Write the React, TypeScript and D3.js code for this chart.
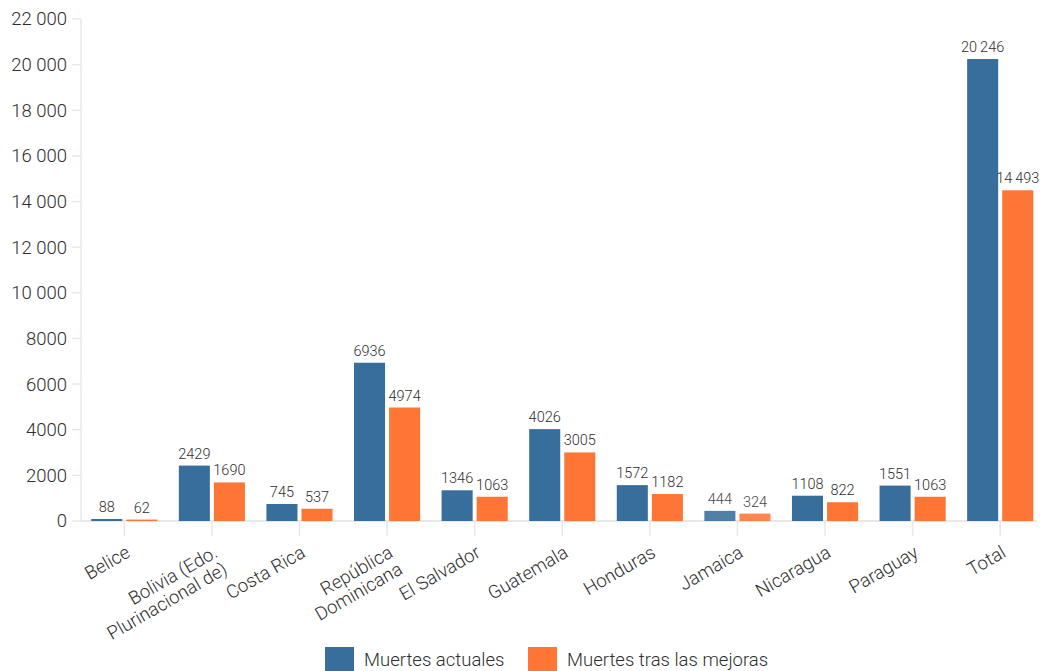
import React from "react";
import * as d3 from "d3";

const categories = [
  "Belice",
  "Bolivia (Edo.\nPlurinacional de)",
  "Costa Rica",
  "República\nDominicana",
  "El Salvador",
  "Guatemala",
  "Honduras",
  "Jamaica",
  "Nicaragua",
  "Paraguay",
  "Total",
];
const seriesNames = ["Muertes actuales", "Muertes tras las mejoras"];
const actual = [88, 2429, 745, 6936, 1346, 4026, 1572, 444, 1108, 1551, 20246];
const improved = [62, 1690, 537, 4974, 1063, 3005, 1182, 324, 822, 1063, 14493];
const yTicks = [0, 2000, 4000, 6000, 8000, 10000, 12000, 14000, 16000, 18000, 20000, 22000];

const W = 1042;
const H = 671;
const colors = ["#386e9b", "#fe7535"];
const hovered = "Jamaica";
const FONT = "Roboto, 'Noto Sans', sans-serif";
const TEXT = "#2e2e2e";
const AXIS = "#e8e8e8";

function fmt(v: number, sep: string) {
  if (v < 10000) return String(v);
  return d3.format(",")(v).replace(/,/g, sep);
}

export default function App() {
  const y = d3.scaleLinear().domain([0, 22000]).range([521, 19]);
  const x = d3.scaleBand<string>().domain(categories).range([80.5, 1044]).padding(0);
  const step = x.step();
  const groupW = step * 0.755;
  const xs = d3
    .scaleBand<string>()
    .domain(seriesNames)
    .range([0, groupW])
    .paddingInner(0.115);
  const series = [actual, improved];

  return (
    <svg
      width={W}
      height={H}
      style={{ position: "absolute", left: 0, top: 0, fontFamily: FONT }}
    >
      {/* y axis */}
      <line x1={81} x2={81} y1={y(22000)} y2={y(0)} stroke={AXIS} strokeWidth={1.5} />
      {yTicks.map((t) => (
        <g key={t}>
          <line x1={72} x2={81} y1={y(t)} y2={y(t)} stroke={AXIS} strokeWidth={1.5} />
          <text
            x={67}
            y={y(t)}
            dy="0.35em"
            textAnchor="end"
            fontSize={18.5}
            fontWeight={300}
            fill={TEXT}
          >
            {fmt(t, " ")}
          </text>
        </g>
      ))}
      {/* x axis */}
      <line x1={81} x2={1037} y1={y(0)} y2={y(0)} stroke={AXIS} strokeWidth={2} />
      {categories.map((c) => {
        const cx = (x(c) as number) + step / 2;
        return (
          <line key={c} x1={cx} x2={cx} y1={y(0)} y2={536} stroke={AXIS} strokeWidth={1.5} />
        );
      })}
      {/* bars */}
      {categories.map((c, i) => {
        const cx = (x(c) as number) + step / 2;
        const g0 = cx - groupW / 2;
        return (
          <g key={c} opacity={c === hovered ? 0.88 : 1}>
            {series.map((s, k) => {
              const bx = g0 + (xs(seriesNames[k]) as number);
              const bw = xs.bandwidth();
              const v = s[i];
              return (
                <g key={k}>
                  <rect x={bx} y={y(v)} width={bw} height={y(0) - y(v)} fill={colors[k]} />
                  <text
                    x={bx + bw / 2}
                    y={y(v) - 7}
                    textAnchor="middle"
                    fontSize={14.5}
                    fontWeight={300}
                    fill={TEXT}
                  >
                    {fmt(v, "\u2009")}
                  </text>
                </g>
              );
            })}
          </g>
        );
      })}
      {/* category labels */}
      {categories.map((c) => {
        const cx = (x(c) as number) + step / 2;
        const lines = c.split("\n");
        return (
          <text
            key={c}
            transform={`translate(${cx + 7},556) rotate(-30)`}
            textAnchor="end"
            fontSize={18.5}
            fontWeight={300}
            fill={TEXT}
          >
            {lines.map((l, j) => (
              <tspan key={j} x={0} dy={j === 0 ? 0 : "1.05em"}>
                {l}
              </tspan>
            ))}
          </text>
        );
      })}
      {/* legend */}
      {seriesNames.map((n, k) => {
        const lx = k === 0 ? 325 : 528;
        return (
          <g key={n}>
            <rect x={lx} y={647} width={29} height={24} fill={colors[k]} />
            <text x={lx + 39} y={666} fontSize={18.5} fontWeight={300} fill={TEXT}>
              {n}
            </text>
          </g>
        );
      })}
    </svg>
  );
}
